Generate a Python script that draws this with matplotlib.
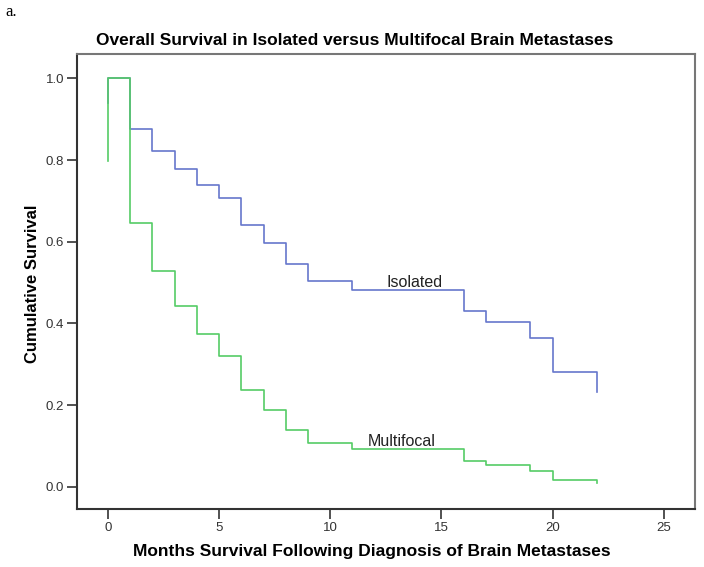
import numpy as np
import matplotlib.pyplot as plt

plt.rcParams['font.family'] = ['Liberation Sans', 'DejaVu Sans']

# months at which each step starts, and survival from that month on
iso_t = [0, 0, 1, 2, 3, 4, 5, 6, 7, 8, 9, 11, 16, 17, 19, 20, 22, 22]
iso_s = [0.94, 1.0, 0.875, 0.823, 0.779, 0.739, 0.706, 0.642, 0.598, 0.546,
         0.504, 0.481, 0.431, 0.404, 0.365, 0.281, 0.281, 0.232]

multi_t = [0, 0, 1, 2, 3, 4, 5, 6, 7, 8, 9, 11, 16, 17, 19, 20, 22, 22]
multi_s = [0.797, 1.0, 0.645, 0.528, 0.442, 0.373, 0.320, 0.236, 0.188, 0.139,
           0.107, 0.092, 0.064, 0.052, 0.038, 0.016, 0.016, 0.010]

fig = plt.figure(figsize=(7.04, 5.67), dpi=100)
ax = fig.add_axes([0.109, 0.102, 0.878, 0.803])

ax.step(iso_t, iso_s, where='post', color='#6677cc', lw=1.2)
ax.step(multi_t, multi_s, where='post', color='#55cc66', lw=1.2)

ax.text(13.8, 0.50, 'Isolated', fontsize=11.5, color='#222222', ha='center', va='center')
ax.text(13.2, 0.11, 'Multifocal', fontsize=11.5, color='#222222', ha='center', va='center')

ax.set_xlim(-1.4, 26.4)
ax.set_ylim(-0.055, 1.06)
ax.set_xticks([0, 5, 10, 15, 20, 25])
ax.set_yticks([0.0, 0.2, 0.4, 0.6, 0.8, 1.0])
ax.set_yticklabels(['0.0', '0.2', '0.4', '0.6', '0.8', '1.0'])
ax.tick_params(length=7, width=1.2, color='#333333', labelsize=9.5, labelcolor='#333333', pad=2)

for side in ['left', 'bottom']:
    ax.spines[side].set_color('#333333')
    ax.spines[side].set_linewidth(1.5)
for side in ['top', 'right']:
    ax.spines[side].set_color('#777777')
    ax.spines[side].set_linewidth(1.5)

fig.text(0.528, 0.028, 'Months Survival Following Diagnosis of Brain Metastases', fontsize=12.5,
         fontweight='bold', ha='center', va='center')
fig.text(0.046, 0.50, 'Cumulative Survival', fontsize=12, fontweight='bold',
         rotation=90, ha='center', va='center')
fig.text(0.504, 0.929, 'Overall Survival in Isolated versus Multifocal Brain Metastases',
         fontsize=12.5, fontweight='bold', ha='center', va='center')
fig.text(0.007, 0.979, 'a.', fontsize=12, family='Liberation Serif', ha='left', va='center')

fig.savefig('out.png', dpi=100)
